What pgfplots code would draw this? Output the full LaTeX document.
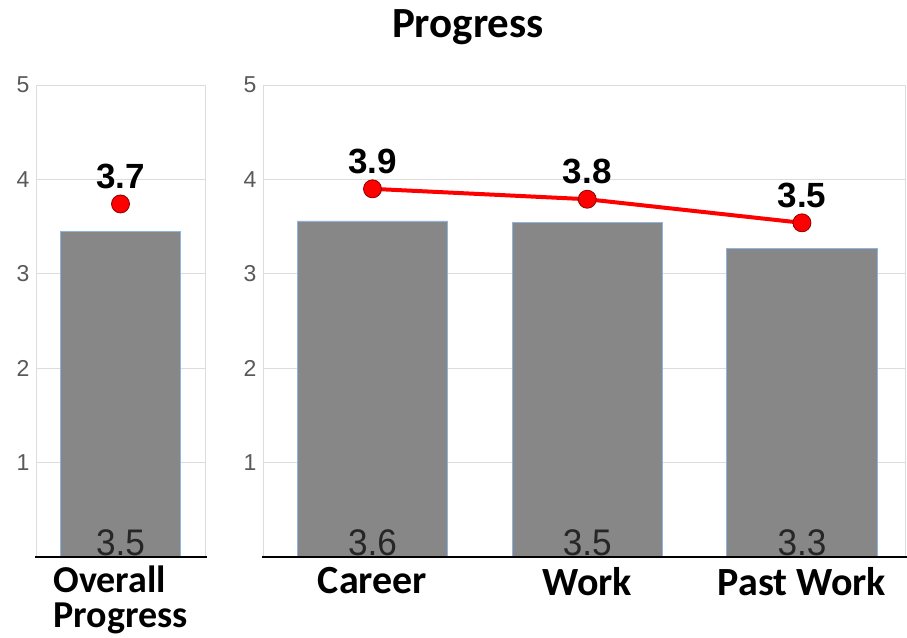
\documentclass[border=0pt]{standalone}
\usepackage{pgfplots}
\pgfplotsset{compat=1.18}
\usepackage{graphicx}
\usepackage{fontspec}
\setmainfont{Liberation Sans}
\newfontfamily\calibri{Carlito}
\definecolor{barfill}{HTML}{878787}
\definecolor{baredge}{HTML}{8EB4E3}
\definecolor{gridc}{HTML}{DCDCDC}
\definecolor{tickc}{HTML}{595959}
\definecolor{mkedge}{HTML}{8B0000}
\newcommand{\sq}[1]{\scalebox{0.95}[1]{#1}}
\pgfplotsset{
  panel/.style={
    scale only axis, height=472pt, ymin=0, ymax=5, ytick={1,2,3,4,5},
    ymajorgrids, grid style={gridc, line width=1pt},
    axis line style={gridc, line width=1pt},
    major tick length=0pt,
    yticklabel style={font=\fontsize{23}{26}\selectfont, text=tickc, xshift=-3pt},
    /pgf/number format/assume math mode=true,
    anchor=south west,
    clip=false,
  },
  barlab/.style={draw=none, mark=none, nodes near coords, point meta=explicit symbolic,
    nodes near coords style={anchor=south, font=\fontsize{37}{37}\selectfont, text=black!85, inner sep=0pt, yshift=1pt}},
  linelab/.style={red, line width=4pt, mark=*, mark size=9pt,
    mark options={fill=red, draw=mkedge, line width=0.8pt},
    nodes near coords, point meta=explicit symbolic,
    nodes near coords style={anchor=south, font=\bfseries\fontsize{35}{35}\selectfont, text=black, inner sep=0pt, yshift=15pt}},
}
\begin{document}
\begin{tikzpicture}
\useasboundingbox (0,0) rectangle (907pt,637pt);
\node[font=\calibri\bfseries\fontsize{43}{43}\selectfont] at (468pt,610pt) {Progress};
% left panel
\begin{axis}[panel, at={(36pt,80pt)}, width=169pt, xmin=-0.5, xmax=0.5,
  xtick={0}, xticklabels={Overall\\Progress},
  xticklabel style={align=left, font=\calibri\bfseries\fontsize{38}{35}\selectfont, yshift=-8pt, inner sep=1pt}]
\addplot[ybar, bar width=0.71, fill=barfill, draw=baredge, line width=0.8pt] coordinates {(0,3.45)};
\addplot[barlab] table[meta=lab] {
x y lab
0 0 \sq{3.5}
};
\addplot[linelab] table[meta=lab] {
x y lab
0 3.74 3.7
};
\draw[black, line width=2pt] ([xshift=-1pt]rel axis cs:0,0) -- ([xshift=2pt]rel axis cs:1,0);
\end{axis}
% right panel
\begin{axis}[panel, at={(263pt,80pt)}, width=642pt, xmin=-0.51, xmax=2.48,
  xtick={0,1,2}, xticklabels={Career,Work,Past Work},
  xticklabel style={font=\calibri\bfseries\fontsize{40}{40}\selectfont, yshift=-7pt}]
\addplot[ybar, bar width=0.70, fill=barfill, draw=baredge, line width=0.8pt] coordinates {(0,3.56) (1,3.54) (2,3.27)};
\addplot[barlab] table[meta=lab] {
x y lab
0 0 \sq{3.6}
1 0 \sq{3.5}
2 0 \sq{3.3}
};
\addplot[linelab] table[meta=lab] {
x y lab
0 3.90 3.9
1 3.79 3.8
2 3.54 3.5
};
\draw[black, line width=2pt] ([xshift=-1pt]rel axis cs:0,0) -- ([xshift=2pt]rel axis cs:1,0);
\end{axis}
\end{tikzpicture}
\end{document}
